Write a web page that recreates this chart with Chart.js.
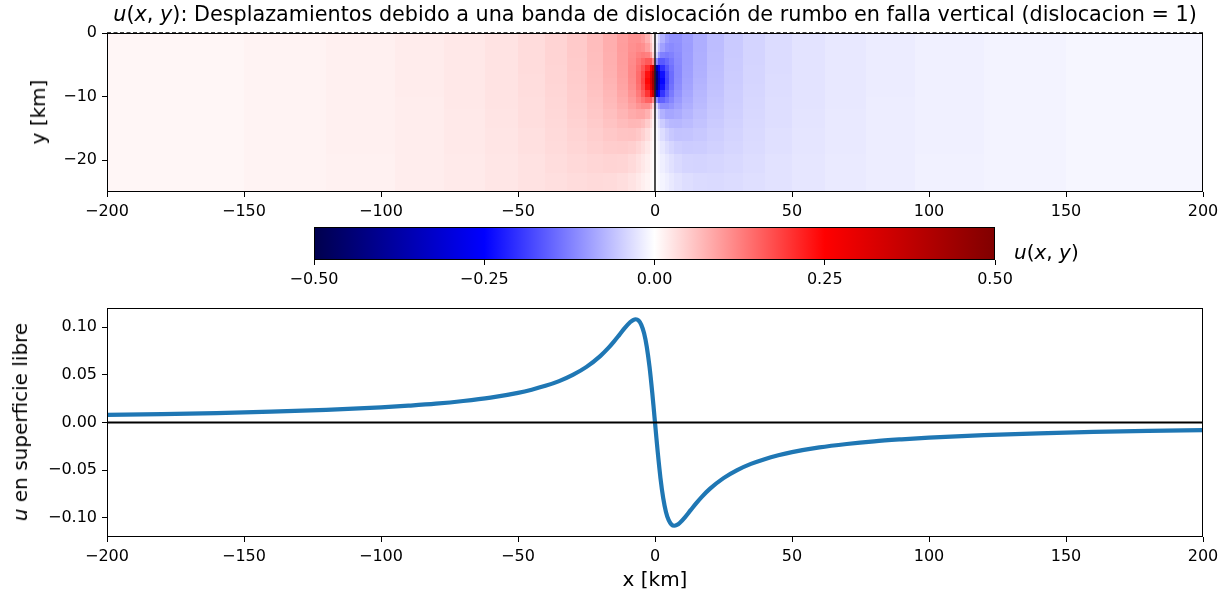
<!DOCTYPE html>
<html><head><meta charset="utf-8">
<script src="https://cdn.jsdelivr.net/npm/chart.js@4.4.1/dist/chart.umd.min.js"></script>
<style>
html,body{margin:0;padding:0;background:#fff;}
body{width:1230px;height:595px;overflow:hidden;position:relative;font-family:"DejaVu Sans",sans-serif;color:#000;}
canvas{position:absolute;left:0;top:0;}
.lbl{position:absolute;white-space:nowrap;line-height:1;}
</style></head><body>
<canvas id="heat" width="1230" height="595"></canvas>
<canvas id="cbar" width="1230" height="595"></canvas>
<canvas id="surf" width="1230" height="595"></canvas>
<div class="lbl" id="title" style="left:655px;top:14px;transform:translate(-50%,-50%);font-size:20.75px;"><i>u</i>(<i>x</i>, <i>y</i>): Desplazamientos debido a una banda de dislocación de rumbo en falla vertical (dislocacion = 1)</div>
<div class="lbl" style="left:38px;top:112px;transform:translate(-50%,-50%) rotate(-90deg);font-size:20px;">y [km]</div>
<div class="lbl" style="left:1014px;top:252px;transform:translateY(-50%);font-size:20px;"><i>u</i>(<i>x</i>, <i>y</i>)</div>
<div class="lbl" style="left:20px;top:422px;transform:translate(-50%,-50%) rotate(-90deg);font-size:20px;"><i>u</i> en superficie libre</div>
<div class="lbl" style="left:655px;top:579px;transform:translate(-50%,-50%);font-size:20px;">x [km]</div>
<script>
// ---------- data ----------
const xTicks = [-200,-150,-100,-50,0,50,100,150,200];
const depthTicks = [0,-10,-20];
const cbarTicks = [-0.5,-0.25,0,0.25,0.5];
const surfTicks = [-0.10,-0.05,0,0.05,0.10];

// near-fault heat-map cells (|x| < 40 km)
const nearXEdges = [-40,-32,-25,-19,-14,-10,-7,-5,-3.5,-2,-1,0,1,2,3.5,5,7,10,14,19,25,32,40];
const nearYEdges = [0,-1.5,-3,-4,-5,-6,-7,-8,-9,-10,-11,-12,-13.5,-15,-17,-19,-22,-25];
const nearGrid = [
 [0.0424,0.0522,0.0648,0.0799,0.0954,0.1068,0.1078,0.0979,0.0765,0.0470,0.0165,-0.0165,-0.0470,-0.0765,-0.0979,-0.1078,-0.1068,-0.0954,-0.0799,-0.0648,-0.0522,-0.0424],
 [0.0422,0.0520,0.0645,0.0795,0.0956,0.1089,0.1143,0.1100,0.0933,0.0621,0.0229,-0.0229,-0.0621,-0.0933,-0.1100,-0.1143,-0.1089,-0.0956,-0.0795,-0.0645,-0.0520,-0.0422],
 [0.0421,0.0517,0.0640,0.0789,0.0954,0.1117,0.1236,0.1291,0.1246,0.0991,0.0425,-0.0425,-0.0991,-0.1246,-0.1291,-0.1236,-0.1117,-0.0954,-0.0789,-0.0640,-0.0517,-0.0421],
 [0.0419,0.0513,0.0634,0.0782,0.0951,0.1138,0.1321,0.1482,0.1626,0.1649,0.1134,-0.1134,-0.1649,-0.1626,-0.1482,-0.1321,-0.1138,-0.0951,-0.0782,-0.0634,-0.0513,-0.0419],
 [0.0416,0.0509,0.0627,0.0773,0.0944,0.1153,0.1395,0.1668,0.2042,0.2572,0.3598,-0.3598,-0.2572,-0.2042,-0.1668,-0.1395,-0.1153,-0.0944,-0.0773,-0.0627,-0.0509,-0.0416],
 [0.0413,0.0504,0.0619,0.0761,0.0932,0.1156,0.1440,0.1799,0.2346,0.3168,0.4283,-0.4283,-0.3168,-0.2346,-0.1799,-0.1440,-0.1156,-0.0932,-0.0761,-0.0619,-0.0504,-0.0413],
 [0.0409,0.0498,0.0609,0.0746,0.0915,0.1141,0.1443,0.1835,0.2445,0.3334,0.4390,-0.4390,-0.3334,-0.2445,-0.1835,-0.1443,-0.1141,-0.0915,-0.0746,-0.0609,-0.0498,-0.0409],
 [0.0406,0.0491,0.0598,0.0729,0.0891,0.1109,0.1397,0.1763,0.2320,0.3153,0.4278,-0.4278,-0.3153,-0.2320,-0.1763,-0.1397,-0.1109,-0.0891,-0.0729,-0.0598,-0.0491,-0.0406],
 [0.0401,0.0484,0.0585,0.0709,0.0860,0.1058,0.1306,0.1594,0.1989,0.2542,0.3588,-0.3588,-0.2542,-0.1989,-0.1594,-0.1306,-0.1058,-0.0860,-0.0709,-0.0585,-0.0484,-0.0401],
 [0.0396,0.0476,0.0572,0.0687,0.0824,0.0993,0.1183,0.1367,0.1543,0.1601,0.1118,-0.1118,-0.1601,-0.1543,-0.1367,-0.1183,-0.0993,-0.0824,-0.0687,-0.0572,-0.0476,-0.0396],
 [0.0391,0.0467,0.0557,0.0663,0.0783,0.0919,0.1046,0.1129,0.1128,0.0922,0.0401,-0.0401,-0.0922,-0.1128,-0.1129,-0.1046,-0.0919,-0.0783,-0.0663,-0.0557,-0.0467,-0.0391],
 [0.0384,0.0456,0.0538,0.0630,0.0727,0.0820,0.0876,0.0868,0.0760,0.0520,0.0194,-0.0194,-0.0520,-0.0760,-0.0868,-0.0876,-0.0820,-0.0727,-0.0630,-0.0538,-0.0456,-0.0384],
 [0.0376,0.0441,0.0514,0.0589,0.0659,0.0705,0.0699,0.0634,0.0500,0.0309,0.0109,-0.0109,-0.0309,-0.0500,-0.0634,-0.0699,-0.0705,-0.0659,-0.0589,-0.0514,-0.0441,-0.0376],
 [0.0364,0.0423,0.0484,0.0540,0.0579,0.0584,0.0537,0.0454,0.0334,0.0196,0.0067,-0.0067,-0.0196,-0.0334,-0.0454,-0.0537,-0.0584,-0.0579,-0.0540,-0.0484,-0.0423,-0.0364],
 [0.0351,0.0401,0.0449,0.0486,0.0496,0.0471,0.0406,0.0325,0.0229,0.0131,0.0044,-0.0044,-0.0131,-0.0229,-0.0325,-0.0406,-0.0471,-0.0496,-0.0486,-0.0449,-0.0401,-0.0351],
 [0.0333,0.0373,0.0406,0.0422,0.0408,0.0364,0.0297,0.0229,0.0156,0.0088,0.0029,-0.0029,-0.0088,-0.0156,-0.0229,-0.0297,-0.0364,-0.0408,-0.0422,-0.0406,-0.0373,-0.0333],
 [0.0312,0.0340,0.0358,0.0355,0.0325,0.0275,0.0215,0.0161,0.0108,0.0060,0.0020,-0.0020,-0.0060,-0.0108,-0.0161,-0.0215,-0.0275,-0.0325,-0.0355,-0.0358,-0.0340,-0.0312]
];
// far-field heat-map cells (|x| >= 40 km)
const farYEdges = [0,-3,-5,-6.5,-8.5,-10,-12,-15,-19,-25];
const farLeftEdges = [-200,-150,-120,-95,-77,-62,-50,-40];
const farLeftGrid = [
 [0.0091,0.0118,0.0147,0.0184,0.0226,0.0279,0.0344],
 [0.0091,0.0117,0.0147,0.0183,0.0226,0.0278,0.0342],
 [0.0091,0.0117,0.0147,0.0183,0.0225,0.0277,0.0339],
 [0.0091,0.0117,0.0147,0.0182,0.0224,0.0275,0.0336],
 [0.0091,0.0117,0.0146,0.0182,0.0223,0.0272,0.0332],
 [0.0090,0.0117,0.0146,0.0181,0.0221,0.0270,0.0327],
 [0.0090,0.0116,0.0145,0.0179,0.0219,0.0265,0.0319],
 [0.0090,0.0116,0.0144,0.0177,0.0214,0.0257,0.0306],
 [0.0089,0.0115,0.0142,0.0173,0.0207,0.0244,0.0284]
];
const farRightEdges = [40,50,62,77,95,120,150,200];
const farRightGrid = [
 [-0.0344,-0.0279,-0.0226,-0.0184,-0.0147,-0.0118,-0.0091],
 [-0.0342,-0.0278,-0.0226,-0.0183,-0.0147,-0.0117,-0.0091],
 [-0.0339,-0.0277,-0.0225,-0.0183,-0.0147,-0.0117,-0.0091],
 [-0.0336,-0.0275,-0.0224,-0.0182,-0.0147,-0.0117,-0.0091],
 [-0.0332,-0.0272,-0.0223,-0.0182,-0.0146,-0.0117,-0.0091],
 [-0.0327,-0.0270,-0.0221,-0.0181,-0.0146,-0.0117,-0.0090],
 [-0.0319,-0.0265,-0.0219,-0.0179,-0.0145,-0.0116,-0.0090],
 [-0.0306,-0.0257,-0.0214,-0.0177,-0.0144,-0.0116,-0.0090],
 [-0.0284,-0.0244,-0.0207,-0.0173,-0.0142,-0.0115,-0.0089]
];
// fault trace and free surface (top panel)
const faultX = [0,0];
const faultY = [0,-25];
const surfaceX = [-200,200];
const surfaceY = [0,0];

// surface displacement profile (bottom panel)
const surfX = [-200,-180,-160,-140,-120,-100,-90,-80,-70,-60,-50,-45,-40,-35,-30,-25,-20,-17,-15,-13,-11,-9,-8,-7,-6,-5,-4,-3,-2,-1,-0.5,0,
               0.5,1,2,3,4,5,6,7,8,9,11,13,15,17,20,25,30,35,40,45,50,60,70,80,90,100,120,140,160,180,200];
const surfU = [0.0080,0.0088,0.0099,0.0113,0.0132,0.0158,0.0176,0.0197,0.0225,0.0261,0.0311,0.0344,0.0384,0.0434,0.0499,0.0583,0.0696,0.0782,0.0848,0.0919,0.0991,0.1053,0.1074,0.1082,0.1068,0.1024,0.0937,0.0793,0.0583,0.0311,0.0158,0,
               -0.0158,-0.0311,-0.0583,-0.0793,-0.0937,-0.1024,-0.1068,-0.1082,-0.1074,-0.1053,-0.0991,-0.0919,-0.0848,-0.0782,-0.0696,-0.0583,-0.0499,-0.0434,-0.0384,-0.0344,-0.0311,-0.0261,-0.0225,-0.0197,-0.0176,-0.0158,-0.0132,-0.0113,-0.0099,-0.0088,-0.0080];
const zeroX = [-200,200];
const zeroY = [0,0];

// ---------- styling ----------
// matplotlib "seismic" colormap anchor colours
const cmapStops = [[0,[0,0,76.5]],[0.25,[0,0,255]],[0.5,[255,255,255]],[0.75,[255,0,0]],[1,[127.5,0,0]]];
const vmin = -0.5, vmax = 0.5;
function seismic(v){
  let t = (v - vmin)/(vmax - vmin); t = Math.max(0, Math.min(1, t));
  for (let i=0;i<cmapStops.length-1;i++){
    const [t0,c0] = cmapStops[i], [t1,c1] = cmapStops[i+1];
    if (t <= t1){
      const f = (t - t0)/(t1 - t0);
      return 'rgb(' + c0.map((c,k)=>Math.round(c + (c1[k]-c)*f)).join(',') + ')';
    }
  }
  return 'rgb(127,0,0)';
}
const minus = s => s.replace('-', '\u2212');
Chart.defaults.font.family = '"DejaVu Sans", sans-serif';
Chart.defaults.font.size = 16;
Chart.defaults.color = '#000';

const frame = {
  id:'frame',
  afterDraw(chart){
    const a = chart.chartArea, c = chart.ctx;
    c.save(); c.strokeStyle = '#000'; c.lineWidth = 1;
    c.strokeRect(Math.round(a.left)+0.5, Math.round(a.top)+0.5, Math.round(a.right-a.left)-1, Math.round(a.bottom-a.top)-1);
    c.restore();
  }
};
function drawCells(chart, xe, ye, grid){
  const c = chart.ctx, sx = chart.scales.x, sy = chart.scales.y;
  for (let r=0;r<grid.length;r++){
    const y0 = Math.round(sy.getPixelForValue(ye[r])), y1 = Math.round(sy.getPixelForValue(ye[r+1]));
    for (let k=0;k<grid[r].length;k++){
      const x0 = Math.round(sx.getPixelForValue(xe[k])), x1 = Math.round(sx.getPixelForValue(xe[k+1]));
      c.fillStyle = seismic(grid[r][k]);
      c.fillRect(x0, y0, x1-x0, y1-y0);
    }
  }
}
const heatCells = {
  id:'heatCells',
  beforeDatasetsDraw(chart){
    chart.ctx.save();
    drawCells(chart, farLeftEdges, farYEdges, farLeftGrid);
    drawCells(chart, farRightEdges, farYEdges, farRightGrid);
    drawCells(chart, nearXEdges, nearYEdges, nearGrid);
    chart.ctx.restore();
  }
};
const gradBar = {
  id:'gradBar',
  beforeDatasetsDraw(chart){
    const a = chart.chartArea, c = chart.ctx;
    const g = c.createLinearGradient(a.left,0,a.right,0);
    cmapStops.forEach(([t,col]) => g.addColorStop(t, 'rgb(' + col.map(Math.round).join(',') + ')'));
    c.save(); c.fillStyle = g; c.fillRect(a.left, a.top, a.right-a.left, a.bottom-a.top); c.restore();
  }
};

function xAxis(min, max, ticks, fmt){
  return {
    type:'linear', position:'bottom', min, max,
    afterBuildTicks: s => { s.ticks = ticks.map(v => ({value:v})); },
    afterFit: s => { s.height = 30; },
    grid:{ display:true, drawOnChartArea:false, drawTicks:true, tickLength:5, color:'#000', lineWidth:1 },
    border:{ display:false },
    ticks:{ callback: fmt, padding:5, maxRotation:0, autoSkip:false, color:'#000' }
  };
}
function yAxis(min, max, ticks, fmt){
  return {
    type:'linear', position:'left', min, max,
    afterBuildTicks: s => { s.ticks = ticks.map(v => ({value:v})); },
    afterFit: s => { s.width = 60; },
    grid:{ display:true, drawOnChartArea:false, drawTicks:true, tickLength:5, color:'#000', lineWidth:1 },
    border:{ display:false },
    ticks:{ callback: fmt, padding:5, autoSkip:false, color:'#000' }
  };
}
const common = { responsive:false, animation:false, events:[],
  plugins:{ legend:{display:false}, tooltip:{enabled:false}, title:{display:false} } };

// top panel: heat map
new Chart(document.getElementById('heat'), {
  type:'scatter',
  data:{ datasets:[
    { data: faultX.map((x,i)=>({x, y:faultY[i]})), showLine:true, borderColor:'#222', borderWidth:1.6, pointRadius:0 },
    { data: surfaceX.map((x,i)=>({x, y:surfaceY[i]})), showLine:true, borderColor:'#000', borderWidth:1.6, borderDash:[4,2.5], pointRadius:0, clip:false }
  ]},
  options:{ ...common,
    layout:{ padding:{ top:33, left:47, right:27, bottom:373 } },
    scales:{
      x: xAxis(-200, 200, xTicks, v => minus(String(v))),
      y: yAxis(-25, 0, depthTicks, v => minus(String(v)))
    }
  },
  plugins:[heatCells, frame]
});

// colour bar
new Chart(document.getElementById('cbar'), {
  type:'scatter',
  data:{ datasets:[] },
  options:{ ...common,
    layout:{ padding:{ top:227, left:314, right:235, bottom:305 } },
    scales:{
      x: xAxis(vmin, vmax, cbarTicks, v => minus(Number(v).toFixed(2))),
      y: { display:false, min:0, max:1 }
    }
  },
  plugins:[gradBar, frame]
});

// bottom panel: surface displacement
new Chart(document.getElementById('surf'), {
  type:'scatter',
  data:{ datasets:[
    { data: zeroX.map((x,i)=>({x, y:zeroY[i]})), showLine:true, borderColor:'#000', borderWidth:2, pointRadius:0 },
    { data: surfX.map((x,i)=>({x, y:surfU[i]})), showLine:true, borderColor:'#1f77b4', borderWidth:4.2, pointRadius:0, cubicInterpolationMode:'monotone' }
  ]},
  options:{ ...common,
    layout:{ padding:{ top:308, left:47, right:27, bottom:28 } },
    scales:{
      x: xAxis(-200, 200, xTicks, v => minus(String(v))),
      y: yAxis(-0.12, 0.12, surfTicks, v => minus(Number(v).toFixed(2)))
    }
  },
  plugins:[frame]
});
</script>
</body></html>
